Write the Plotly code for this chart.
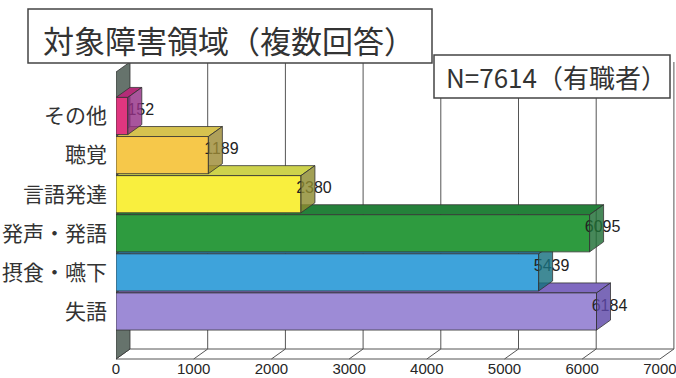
import plotly.graph_objects as go

# ---- data -------------------------------------------------------------
categories = ["その他", "聴覚", "言語発達", "発声・発語", "摂食・嚥下", "失語"]
counts = [152, 1189, 2380, 6095, 5439, 6184]
x_ticks = [0, 1000, 2000, 3000, 4000, 5000, 6000, 7000]
title_text = "対象障害領域（複数回答）"
note_text = "N=7614（有職者）"

# face colours per bar: front, top, side
front_colors = ["#E0367F", "#F6C84A", "#F9EF3E", "#2E9B3F", "#3EA3DB", "#9D8BD6"]
top_colors = ["#B32C78", "#D6C24F", "#CDD24C", "#24813A", "#2B80A8", "#7F69C0"]
side_colors = ["rgba(149,47,134,0.82)", "rgba(157,139,54,0.82)",
               "rgba(142,139,47,0.82)", "rgba(31,110,53,0.82)",
               "rgba(23,112,127,0.82)", "rgba(94,72,168,0.82)"]

# ---- page / axis geometry (pixels) ------------------------------------
W, H = 676, 378
M_L, M_R, M_T, M_B = 116, 0, 40, 17
PX_PER_UNIT = 0.0777          # horizontal pixels per count
PX_PER_ROW = 39.1             # vertical pixels per category row
ROW0_PX = 311.5               # pixel centre of the lowest row
FLOOR_PX = 359                # front edge of the floor
WALL_TOP_PX = 62              # top of the back wall
DEPTH_DX_PX, DEPTH_DY_PX = 14, 10

def py(px):
    """pixel row -> y data value"""
    return (ROW0_PX - px) / PX_PER_ROW

x_max = (W - M_L - M_R) / PX_PER_UNIT
y_min = py(H - M_B)
y_max = py(M_T)
DX = DEPTH_DX_PX / PX_PER_UNIT
DY = DEPTH_DY_PX / PX_PER_ROW
FLOOR = py(FLOOR_PX)
WALL_TOP = py(WALL_TOP_PX)
HALF = 0.475
EDGE = "#333333"

fig = go.Figure()

def poly(xs, ys, fill, width=0.8, color=EDGE):
    fig.add_trace(go.Scatter(
        x=xs + [xs[0]], y=ys + [ys[0]], mode="lines", fill="toself",
        fillcolor=fill, line=dict(color=color, width=width),
        hoverinfo="skip", showlegend=False))

def seg(xs, ys, color="#555555", width=1):
    fig.add_trace(go.Scatter(
        x=xs, y=ys, mode="lines", line=dict(color=color, width=width),
        hoverinfo="skip", showlegend=False))

# back-wall gridlines
for t in x_ticks[1:]:
    seg([t + DX, t + DX], [FLOOR + DY, WALL_TOP])

# floor: back edge, front edge and depth lines
seg([DX, x_ticks[-1] + DX], [FLOOR + DY, FLOOR + DY])
seg([0, x_ticks[-1]], [FLOOR, FLOOR])
for t in x_ticks:
    seg([t, t + DX], [FLOOR, FLOOR + DY])

# left side wall
poly([0, 0, DX, DX], [FLOOR, WALL_TOP - DY, WALL_TOP, FLOOR + DY], "#66736C")

# 3-D bars, painted from the lowest row upwards
n = len(categories)
for k in range(n - 1, -1, -1):
    v = counts[k]
    r = n - 1 - k
    lo, hi = r - HALF, r + HALF
    poly([0, v, v + DX, DX], [hi, hi, hi + DY, hi + DY], top_colors[k])
    poly([0, v, v, 0], [lo, lo, hi, hi], front_colors[k])
    fig.add_trace(go.Scatter(
        x=[v + 13 / PX_PER_UNIT], y=[r + 5 / PX_PER_ROW], mode="text",
        text=[str(v)], textposition="middle center", cliponaxis=False,
        textfont=dict(family="Liberation Sans", size=16, color="#222222"),
        hoverinfo="skip", showlegend=False))
    poly([v, v + DX, v + DX, v], [lo, lo + DY, hi + DY, hi], side_colors[k])

def paper_x(px):
    return (px - M_L) / (W - M_L - M_R)

def paper_y(px):
    return (H - M_B - px) / (H - M_T - M_B)

# title box and sample-size box
fig.add_shape(type="rect", xref="paper", yref="paper",
              x0=paper_x(28), x1=paper_x(432), y0=paper_y(63), y1=paper_y(9),
              fillcolor="white", line=dict(color="#444444", width=1.5))
fig.add_shape(type="rect", xref="paper", yref="paper",
              x0=paper_x(434), x1=paper_x(670), y0=paper_y(98), y1=paper_y(55),
              fillcolor="white", line=dict(color="#444444", width=1.5))
fig.add_annotation(xref="paper", yref="paper", x=paper_x(229), y=paper_y(39),
                   xanchor="center", yanchor="middle",
                   text=title_text, showarrow=False,
                   font=dict(family="Noto Sans CJK JP", size=31, color="#333333"))
fig.add_annotation(xref="paper", yref="paper", x=paper_x(556), y=paper_y(76),
                   xanchor="center", yanchor="middle",
                   text=note_text, showarrow=False,
                   font=dict(family="Noto Sans CJK JP", size=26, color="#333333"))

fig.update_layout(
    width=W, height=H,
    margin=dict(l=M_L, r=M_R, t=M_T, b=M_B, pad=0, autoexpand=False),
    paper_bgcolor="white", plot_bgcolor="white",
    showlegend=False, hovermode=False,
    xaxis=dict(range=[0, x_max], tickvals=x_ticks,
               ticktext=[str(t) for t in x_ticks], automargin=False,
               showgrid=False, zeroline=False, showline=False, ticks="",
               ticklabeloverflow="allow", ticklabelstandoff=-3,
               tickfont=dict(family="Liberation Sans", size=15, color="#262626")),
    yaxis=dict(range=[y_min, y_max], tickvals=list(range(n)),
               ticktext=categories[::-1], automargin=False,
               showgrid=False, zeroline=False, showline=False, ticks="",
               ticklabelstandoff=8,
               tickfont=dict(family="Noto Sans CJK JP", size=21, color="#333333")),
)

fig.write_html("out.html")
